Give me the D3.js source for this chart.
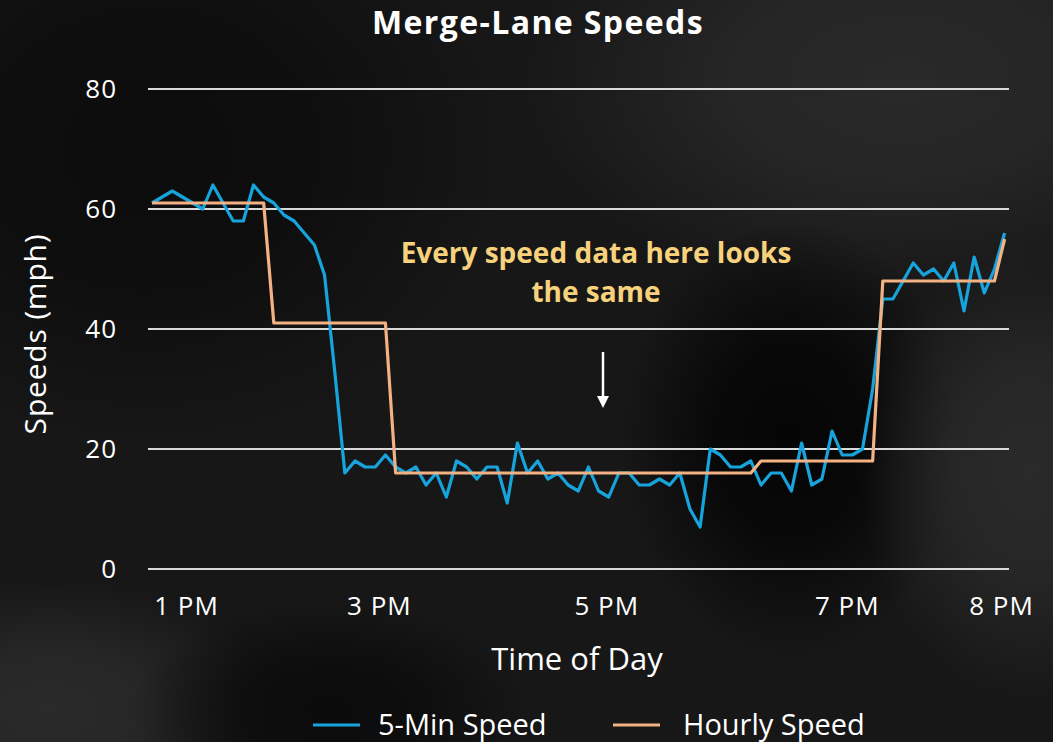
<!DOCTYPE html>
<html lang="en">
<head>
  <meta charset="utf-8">
  <title>Merge-Lane Speeds</title>
  <script src="https://d3js.org/d3.v7.min.js"></script>
  <style>
    body { margin: 0; background: #141414; }
    text { font-family: "Open Sans", "Liberation Sans", sans-serif; fill: #fff; }
  </style>
</head>
<body>
<script>
// 5-minute readings, 1:00 PM to 8:00 PM (85 points)
var speed5min = [
  61, 62, 63, 62, 61, 60, 64, 61, 58, 58, 64, 62,
  61, 59, 58, 56, 54, 49, 33, 16, 18, 17, 17, 19,
  17, 16, 17, 14, 16, 12, 18, 17, 15, 17, 17, 11,
  21, 16, 18, 15, 16, 14, 13, 17, 13, 12, 16, 16,
  14, 14, 15, 14, 16, 10, 7, 20, 19, 17, 17, 18,
  14, 16, 16, 13, 21, 14, 15, 23, 19, 19, 20, 30,
  45, 45, 48, 51, 49, 50, 48, 51, 43, 52, 46, 50,
  56
];
// hourly average, repeated for each 5-minute slot
var speedHourly = [
  61, 61, 61, 61, 61, 61, 61, 61, 61, 61, 61, 61,
  41, 41, 41, 41, 41, 41, 41, 41, 41, 41, 41, 41,
  16, 16, 16, 16, 16, 16, 16, 16, 16, 16, 16, 16,
  16, 16, 16, 16, 16, 16, 16, 16, 16, 16, 16, 16,
  16, 16, 16, 16, 16, 16, 16, 16, 16, 16, 16, 16,
  18, 18, 18, 18, 18, 18, 18, 18, 18, 18, 18, 18,
  48, 48, 48, 48, 48, 48, 48, 48, 48, 48, 48, 48,
  55
];
var yTicks = [0, 20, 40, 60, 80];
var xTickLabels = ["1 PM", "3 PM", "5 PM", "7 PM", "8 PM"];
var xTickSlots = [3.4, 22.4, 44.8, 68.5, 83.7];   // where the labels sit, in 5-min slots
var seriesNames = ["5-Min Speed", "Hourly Speed"];
var seriesColors = ["#17a3dc", "#f4b183"];

var w = 1053, h = 742;

var svg = d3.select("body").append("svg")
  .attr("width", w).attr("height", h);

var defs = svg.append("defs");

// background: dark with soft shapes (radial gradients fade out to nothing)
svg.append("rect").attr("width", w).attr("height", h).attr("fill", "#171717");
var blobs = [
  {cx: 150,  cy: 150, rx: 360, ry: 300, c: "#0c0c0c"},
  {cx: 900,  cy: 80,  rx: 380, ry: 220, c: "#292929"},
  {cx: 790,  cy: 440, rx: 170, ry: 220, c: "#050505"},
  {cx: 1030, cy: 470, rx: 170, ry: 230, c: "#2a2a2a"},
  {cx: 50,   cy: 710, rx: 230, ry: 130, c: "#2a2a2a"},
  {cx: 330,  cy: 710, rx: 200, ry: 110, c: "#0b0b0b"}
];
blobs.forEach(function(b, i) {
  var g = defs.append("radialGradient").attr("id", "blob" + i);
  g.append("stop").attr("offset", "0%").attr("stop-color", b.c).attr("stop-opacity", 1);
  g.append("stop").attr("offset", "45%").attr("stop-color", b.c).attr("stop-opacity", 0.8);
  g.append("stop").attr("offset", "100%").attr("stop-color", b.c).attr("stop-opacity", 0);
  svg.append("ellipse")
    .attr("cx", b.cx).attr("cy", b.cy).attr("rx", b.rx).attr("ry", b.ry)
    .attr("fill", "url(#blob" + i + ")");
});

var x = d3.scaleLinear().domain([0, speed5min.length - 1]).range([152, 1004.6]);
var y = d3.scaleLinear().domain([0, 80]).range([569, 89]);

// gridlines
svg.append("g").selectAll("line")
  .data(yTicks).enter().append("line")
  .attr("x1", 148).attr("x2", 1009)
  .attr("y1", function(d) { return y(d); })
  .attr("y2", function(d) { return y(d); })
  .attr("stroke", "#d9d9d9").attr("stroke-width", 2);

// y tick labels
svg.append("g").selectAll("text")
  .data(yTicks).enter().append("text")
  .attr("x", 117)
  .attr("y", function(d) { return y(d); })
  .attr("dy", "0.36em")
  .attr("text-anchor", "end")
  .attr("font-size", 26)
  .attr("letter-spacing", 1)
  .text(function(d) { return d; });

// x tick labels
svg.append("g").selectAll("text")
  .data(xTickLabels).enter().append("text")
  .attr("x", function(d, i) { return x(xTickSlots[i]); })
  .attr("y", 615)
  .attr("text-anchor", "middle")
  .attr("font-size", 26)
  .attr("letter-spacing", 1)
  .text(function(d) { return d; });

// axis titles
svg.append("text")
  .attr("x", 577).attr("y", 670)
  .attr("text-anchor", "middle")
  .attr("font-size", 31)
  .text("Time of Day");

svg.append("text")
  .attr("transform", "translate(46,334) rotate(-90)")
  .attr("text-anchor", "middle")
  .attr("font-size", 30)
  .attr("letter-spacing", 0.8)
  .text("Speeds (mph)");

// chart title
svg.append("text")
  .attr("x", 538).attr("y", 34)
  .attr("text-anchor", "middle")
  .attr("font-size", 32)
  .attr("font-weight", "bold")
  .attr("letter-spacing", 1.4)
  .text("Merge-Lane Speeds");

// lines
var line = d3.line()
  .x(function(d, i) { return x(i); })
  .y(function(d) { return y(d); });

svg.append("path")
  .datum(speed5min)
  .attr("d", line)
  .attr("fill", "none")
  .attr("stroke", seriesColors[0])
  .attr("stroke-width", 3.2)
  .attr("stroke-linejoin", "round");

svg.append("path")
  .datum(speedHourly)
  .attr("d", line)
  .attr("fill", "none")
  .attr("stroke", seriesColors[1])
  .attr("stroke-width", 3.2)
  .attr("stroke-linejoin", "round");

// annotation
var note = svg.append("text")
  .attr("text-anchor", "middle")
  .attr("font-size", 28)
  .attr("font-weight", "bold")
  .style("fill", "#f7d27c");
note.append("tspan").attr("x", 596).attr("y", 263).text("Every speed data here looks");
note.append("tspan").attr("x", 596).attr("y", 302).text("the same");

defs.append("marker").attr("id", "arrow")
  .attr("markerUnits", "userSpaceOnUse")
  .attr("viewBox", "0 0 10 10").attr("refX", 0).attr("refY", 5)
  .attr("markerWidth", 14).attr("markerHeight", 12).attr("orient", "auto")
  .append("path").attr("d", "M0,0 L10,5 L0,10 z").attr("fill", "#fff");

svg.append("line")
  .attr("x1", 603).attr("y1", 352)
  .attr("x2", 603).attr("y2", 396)
  .attr("stroke", "#fff").attr("stroke-width", 2.5)
  .attr("marker-end", "url(#arrow)");

// legend
var legendX = [313, 613];
var legend = svg.append("g").selectAll("g")
  .data(seriesNames).enter().append("g")
  .attr("transform", function(d, i) { return "translate(" + legendX[i] + ",725)"; });
legend.append("line")
  .attr("x1", 0).attr("x2", 47)
  .attr("stroke", function(d, i) { return seriesColors[i]; })
  .attr("stroke-width", 3.2);
legend.append("text")
  .attr("x", function(d, i) { return i == 0 ? 65 : 70; })
  .attr("dy", "0.36em")
  .attr("font-size", 29)
  .text(function(d) { return d; });
</script>
</body>
</html>
